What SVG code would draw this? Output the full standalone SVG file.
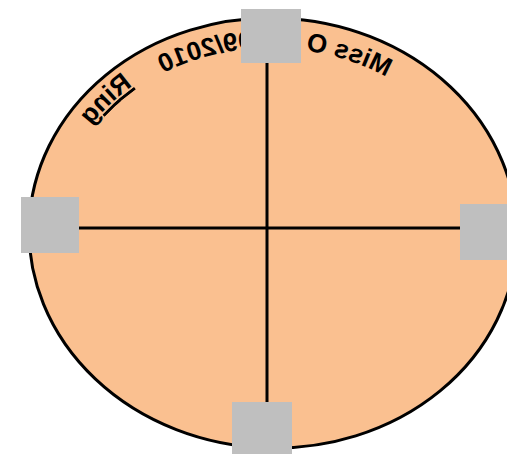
<svg xmlns="http://www.w3.org/2000/svg" xmlns:xlink="http://www.w3.org/1999/xlink" width="507" height="454" viewBox="0 0 507 454">
<style>
.sq{fill:#BFBFBF;stroke:none}
.ln{stroke:#000;stroke-width:3;fill:none}
.lbl{font-family:"Liberation Sans",Arial,sans-serif;font-weight:bold;font-size:26px;fill:#000}
</style>
<defs>
<path id="arc" d="M 59.1 240.5 A 214 185 -2 0 1 486.9 225.5"/>
<path id="arc2" d="M 54.1 240.6 A 219 190 -2 0 1 491.9 225.4"/>
</defs>
<g id="ring">
<ellipse cx="273" cy="233" rx="244" ry="215" transform="rotate(2 273 233)" fill="#FAC090" stroke="#000" stroke-width="3"/>
</g>
<g id="labels" transform="translate(546,0) scale(-1,1)">
<text class="lbl"><textPath xlink:href="#arc" href="#arc" startOffset="202">Miss O</textPath></text>
<text class="lbl" text-anchor="end"><textPath xlink:href="#arc" href="#arc" startOffset="434">09/2010</textPath></text>
<text class="lbl" text-decoration="underline"><textPath xlink:href="#arc2" href="#arc2" startOffset="477" text-decoration="underline">Ring</textPath></text>
</g>
<g id="connectors">
<line class="ln" x1="267" y1="63" x2="267" y2="402"/>
<line class="ln" x1="79" y1="228" x2="460" y2="228"/>
</g>
<g id="node-top"><rect class="sq" x="241" y="9" width="60" height="54"/></g>
<g id="node-left"><rect class="sq" x="21" y="197" width="58" height="56"/></g>
<g id="node-right"><rect class="sq" x="460" y="204" width="47" height="56"/></g>
<g id="node-bottom"><rect class="sq" x="232" y="402" width="60" height="52"/></g>
</svg>
